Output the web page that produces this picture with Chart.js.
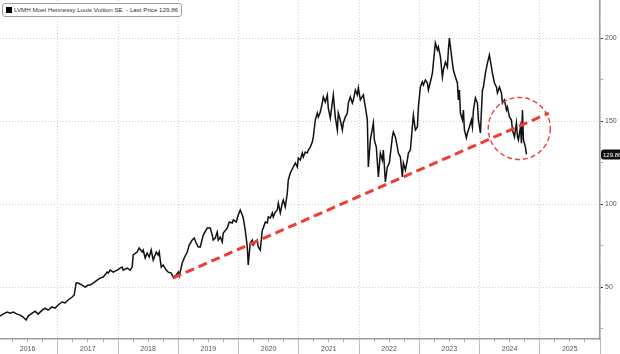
<!DOCTYPE html>
<html lang="en">
<head>
    <meta charset="UTF-8">
    <title>LVMH Last Price</title>
    <style>
        body {
            margin: 0;
            background: #fff;
            font-family: "Liberation Sans", Arial, sans-serif;
        }
        .wrap {
            position: relative;
            width: 620px;
            height: 354px;
        }
        #legend {
            position: absolute;
            left: 2px;
            top: 3px;
            height: 12px;
            line-height: 12px;
            padding: 0 3px 0 3px;
            border: 1px solid #a0a0a0;
            border-radius: 3px;
            background: #fff;
            font-size: 6.2px;
            color: #333;
            white-space: nowrap;
        }
        #legend .swatch {
            display: inline-block;
            width: 6px;
            height: 6px;
            background: #000;
            margin-right: 2px;
            vertical-align: -1px;
        }
    </style>
</head>
<body>
    <div class="wrap">
        <canvas id="priceChart" width="620" height="354"></canvas>
        <div id="legend"><span class="swatch"></span>LVMH Moet Hennessy Louis Vuitton SE &nbsp;- Last Price 129.86</div>
    </div>

    <script src="https://cdn.jsdelivr.net/npm/chart.js"></script>
    <script>
        // price history (fractional year, price)
        const dates = [
            2016.042, 2016.091, 2016.158, 2016.208, 2016.257, 2016.324, 2016.374, 2016.424, 2016.473, 2016.507,
            2016.573, 2016.623, 2016.673, 2016.739, 2016.789, 2016.839, 2016.905, 2016.955, 2017.005, 2017.071,
            2017.121, 2017.171, 2017.238, 2017.271, 2017.304, 2017.337, 2017.404, 2017.453, 2017.503, 2017.537,
            2017.586, 2017.653, 2017.703, 2017.753, 2017.819, 2017.836, 2017.869, 2017.919, 2017.985, 2018.035,
            2018.068, 2018.085, 2018.151, 2018.201, 2018.234, 2018.251, 2018.317, 2018.350, 2018.400, 2018.417,
            2018.450, 2018.483, 2018.517, 2018.550, 2018.583, 2018.633, 2018.666, 2018.683, 2018.716, 2018.749,
            2018.799, 2018.832, 2018.882, 2018.915, 2018.965, 2018.998, 2019.015, 2019.065, 2019.098, 2019.148,
            2019.181, 2019.231, 2019.264, 2019.297, 2019.331, 2019.364, 2019.414, 2019.480, 2019.530, 2019.563,
            2019.580, 2019.613, 2019.646, 2019.663, 2019.696, 2019.729, 2019.746, 2019.812, 2019.846, 2019.895,
            2019.912, 2019.962, 2019.995, 2020.028, 2020.062, 2020.078, 2020.111, 2020.145, 2020.161, 2020.194,
            2020.228, 2020.244, 2020.277, 2020.311, 2020.327, 2020.360, 2020.394, 2020.410, 2020.444, 2020.477,
            2020.493, 2020.527, 2020.560, 2020.576, 2020.610, 2020.643, 2020.660, 2020.693, 2020.726, 2020.743,
            2020.776, 2020.809, 2020.826, 2020.859, 2020.909, 2020.942, 2020.975, 2020.992, 2021.025, 2021.058,
            2021.075, 2021.108, 2021.141, 2021.158, 2021.191, 2021.224, 2021.241, 2021.274, 2021.307, 2021.324,
            2021.357, 2021.390, 2021.407, 2021.440, 2021.473, 2021.490, 2021.523, 2021.557, 2021.573, 2021.606,
            2021.640, 2021.656, 2021.689, 2021.723, 2021.739, 2021.772, 2021.806, 2021.822, 2021.856, 2021.889,
            2021.905, 2021.939, 2021.972, 2021.988, 2022.022, 2022.071, 2022.121, 2022.138, 2022.154, 2022.188,
            2022.238, 2022.254, 2022.287, 2022.321, 2022.354, 2022.387, 2022.404, 2022.437, 2022.470, 2022.503,
            2022.553, 2022.570, 2022.603, 2022.636, 2022.653, 2022.686, 2022.719, 2022.736, 2022.769, 2022.802,
            2022.819, 2022.852, 2022.885, 2022.902, 2022.935, 2022.969, 2022.985, 2023.018, 2023.051, 2023.068,
            2023.101, 2023.135, 2023.151, 2023.184, 2023.218, 2023.234, 2023.267, 2023.301, 2023.317, 2023.351,
            2023.384, 2023.400, 2023.434, 2023.467, 2023.483, 2023.500, 2023.517, 2023.550, 2023.566, 2023.600,
            2023.633, 2023.649, 2023.666, 2023.683, 2023.716, 2023.733, 2023.749, 2023.782, 2023.799, 2023.832,
            2023.865, 2023.882, 2023.899, 2023.932, 2023.965, 2023.982, 2024.015, 2024.048, 2024.065, 2024.098,
            2024.131, 2024.164, 2024.198, 2024.214, 2024.248, 2024.281, 2024.297, 2024.331, 2024.364, 2024.380,
            2024.414, 2024.447, 2024.463, 2024.497, 2024.530, 2024.547, 2024.580, 2024.613, 2024.630, 2024.646,
            2024.680, 2024.696, 2024.713, 2024.729, 2024.762, 2024.779
        ];
        const prices = [
            32.5, 33.7, 34.9, 34.3, 34.9, 33.7, 33.1, 31.9, 30.1, 32.5,
            34.3, 35.5, 33.7, 36.1, 37.3, 36.1, 38.0, 37.3, 39.2, 41.0,
            40.4, 42.2, 44.0, 45.2, 52.4, 52.4, 51.2, 50.0, 51.2, 51.2,
            52.4, 54.2, 55.4, 56.0, 59.0, 58.4, 60.2, 59.0, 60.2, 61.4,
            62.0, 60.2, 61.4, 60.2, 62.0, 69.3, 71.1, 73.5, 71.1, 72.3,
            67.5, 70.5, 68.1, 72.3, 66.3, 71.1, 69.3, 71.1, 62.0, 63.3,
            60.2, 59.0, 58.4, 56.0, 57.2, 59.0, 56.6, 64.5, 67.5, 71.1,
            75.3, 78.3, 79.5, 76.5, 74.1, 74.1, 81.3, 85.5, 85.5, 81.3,
            78.3, 79.5, 83.1, 78.3, 80.1, 77.1, 82.5, 85.5, 89.2, 88.6,
            90.4, 89.2, 93.4, 96.4, 93.4, 91.6, 84.3, 74.1, 63.3, 76.5,
            78.3, 75.3, 77.1, 78.3, 74.1, 72.3, 84.3, 85.5, 89.2, 88.6,
            92.2, 91.6, 94.6, 92.2, 95.2, 96.4, 100.6, 94.6, 100.6, 102.4,
            98.2, 106.6, 114.5, 118.7, 122.3, 124.7, 122.3, 127.7, 126.5, 130.7,
            128.3, 131.3, 130.7, 132.5, 134.3, 137.3, 140.4, 150.6, 154.8, 152.4,
            155.4, 160.8, 164.5, 161.4, 165.7, 157.8, 151.8, 161.4, 165.7, 152.4,
            144.6, 154.8, 150.6, 144.6, 148.8, 152.4, 154.8, 160.8, 164.5, 160.8,
            162.7, 168.7, 165.7, 169.9, 162.7, 165.7, 154.8, 150.6, 122.3, 138.6,
            148.8, 138.6, 134.3, 116.3, 130.7, 126.5, 132.5, 113.3, 122.3, 124.7,
            140.4, 143.4, 140.4, 134.3, 130.7, 128.3, 116.3, 124.7, 120.5, 126.5,
            130.7, 132.5, 146.4, 153.6, 144.6, 146.4, 158.4, 170.5, 173.5, 171.7,
            174.7, 172.9, 168.7, 173.5, 178.9, 184.9, 197.0, 192.8, 194.6, 188.6,
            176.5, 180.7, 185.5, 182.5, 192.8, 200.0, 194.6, 184.9, 180.7, 176.5,
            172.9, 162.7, 168.7, 154.8, 150.6, 156.6, 144.6, 139.8, 142.8, 146.4,
            150.6, 146.4, 156.6, 163.9, 160.8, 150.6, 142.8, 168.7, 170.5, 178.9,
            184.9, 189.8, 182.5, 178.9, 172.9, 170.5, 166.9, 170.5, 166.9, 160.8,
            162.7, 156.6, 158.4, 152.4, 150.6, 144.6, 140.4, 148.8, 140.4, 138.6,
            146.4, 136.7, 156.6, 138.6, 134.3, 129.86
        ];

        // red dashed trend line (start / end)
        const trendDates = [2018.91, 2025.15];
        const trendValues = [55.4, 154.8];

        // dashed circle round the last months
        const circleCenter = [2024.66, 145.5];
        const circleRadiusYears = 0.515;

        const lastPrice = 129.86;

        // axes
        const yearTicks = [2016, 2017, 2018, 2019, 2020, 2021, 2022, 2023, 2024, 2025, 2026];
        const priceTicks = [25, 50, 75, 100, 125, 150, 175, 200];

        const quarterTicks = [];
        yearTicks.slice(0, -1).forEach(yr => {
            quarterTicks.push(yr + 0.25, yr + 0.5, yr + 0.75);
        });

        const RED = '#ee3d33';

        const overlay = {
            id: 'overlay',
            afterDatasetsDraw(chart) {
                const {ctx, scales: {x, y}} = chart;
                const cx = x.getPixelForValue(circleCenter[0]);
                const cy = y.getPixelForValue(circleCenter[1]);
                const r = x.getPixelForValue(circleCenter[0] + circleRadiusYears) - cx;
                ctx.save();
                ctx.strokeStyle = RED;
                ctx.lineWidth = 1.4;
                ctx.setLineDash([5, 3]);
                ctx.beginPath();
                ctx.arc(cx, cy, r, 0, Math.PI * 2);
                ctx.stroke();
                ctx.restore();
            },
            afterDraw(chart) {
                // last price tag on the right axis
                const {ctx, chartArea, scales: {y}} = chart;
                const py = y.getPixelForValue(lastPrice);
                const left = chartArea.right + 1;
                ctx.save();
                ctx.fillStyle = '#111';
                ctx.beginPath();
                ctx.roundRect(left, py - 5, 24, 10, 3);
                ctx.fill();
                ctx.fillStyle = '#fff';
                ctx.font = '6px "Liberation Sans", Arial, sans-serif';
                ctx.textBaseline = 'middle';
                ctx.fillText(lastPrice.toFixed(2), left + 2, py + 0.5);
                ctx.restore();
            }
        };

        Chart.defaults.font.family = '"Liberation Sans", Arial, sans-serif';

        new Chart(document.getElementById('priceChart'), {
            type: 'line',
            data: {
                datasets: [{
                    label: 'Trend',
                    data: trendDates.map((d, i) => ({x: d, y: trendValues[i]})),
                    borderColor: RED,
                    borderWidth: 3,
                    borderDash: [9, 5],
                    pointRadius: 0
                }, {
                    label: 'LVMH Moet Hennessy Louis Vuitton SE',
                    data: dates.map((d, i) => ({x: d, y: prices[i]})),
                    borderColor: '#111',
                    borderWidth: 1.5,
                    pointRadius: 0,
                    tension: 0
                }]
            },
            options: {
                responsive: false,
                animation: false,
                layout: {padding: 0},
                plugins: {
                    legend: {display: false},
                    tooltip: {enabled: false}
                },
                scales: {
                    xMinor: {
                        type: 'linear',
                        position: 'bottom',
                        weight: 0,
                        min: 2016.04,
                        max: 2026,
                        afterBuildTicks: s => { s.ticks = quarterTicks.map(v => ({value: v})); },
                        afterFit: s => { s.height = 0; s.paddingLeft = 0; s.paddingRight = 0; },
                        grid: {drawOnChartArea: false, tickLength: 3, tickColor: '#aaa'},
                        border: {display: false},
                        ticks: {display: false}
                    },
                    x: {
                        type: 'linear',
                        position: 'bottom',
                        weight: 1,
                        min: 2016.04,
                        max: 2026,
                        afterBuildTicks: s => { s.ticks = yearTicks.map(v => ({value: v})); },
                        afterFit: s => { s.height = 15; s.paddingLeft = 0; s.paddingRight = 0; },
                        grid: {
                            color: '#cfcfcf',
                            lineWidth: 1,
                            tickLength: 15,
                            tickColor: '#bdbdbd'
                        },
                        border: {display: true, color: '#9a9a9a', width: 1.5, dash: [1, 2]},
                        ticks: {
                            autoSkip: false,
                            maxRotation: 0,
                            labelOffset: 30,
                            padding: -9,
                            color: '#555',
                            font: {size: 7},
                            callback: v => (v < 2026 ? String(v) : '')
                        }
                    },
                    y: {
                        type: 'linear',
                        position: 'right',
                        min: 18.7,
                        max: 222.9,
                        afterBuildTicks: s => { s.ticks = priceTicks.map(v => ({value: v})); },
                        afterFit: s => { s.width = 20; s.paddingTop = 0; s.paddingBottom = 0; },
                        grid: {
                            color: c => (c.tick && c.tick.value % 50 === 0 ? '#cfcfcf' : 'rgba(0,0,0,0)'),
                            tickLength: 3,
                            tickColor: c => (c.tick && c.tick.value % 50 === 0 ? '#333' : '#aaa'),
                            tickWidth: 1
                        },
                        border: {display: true, color: '#9a9a9a', width: 1.5, dash: [1, 2]},
                        ticks: {
                            padding: 2,
                            color: '#555',
                            font: {size: 7},
                            callback: v => (v % 50 === 0 ? String(v) : '')
                        }
                    }
                }
            },
            plugins: [overlay]
        });
    </script>
</body>
</html>
